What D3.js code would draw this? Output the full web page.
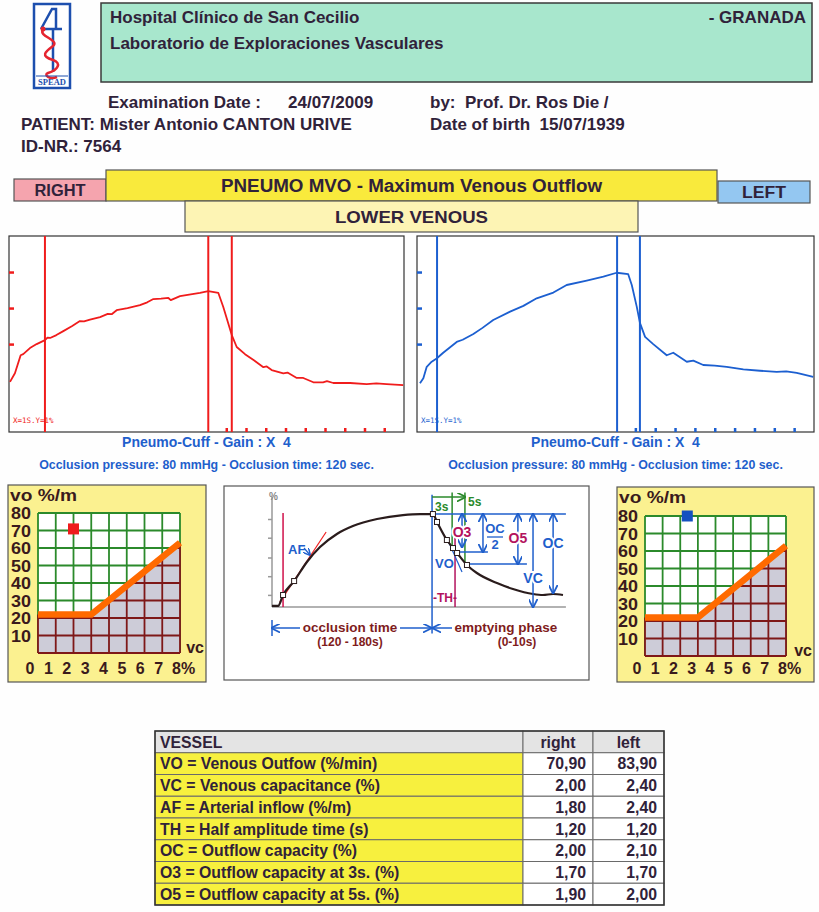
<!DOCTYPE html>
<html>
<head>
<meta charset="utf-8">
<script src="https://cdn.jsdelivr.net/npm/d3@7"></script>
<style>
body{margin:0;background:#fff}
svg{display:block}
text{font-family:"Liberation Sans",Arial,sans-serif;font-weight:bold}
</style>
</head>
<body>
<div id="plot"></div>
<script>
var headerLines = ["Hospital Clínico de San Cecilio", "Laboratorio de Exploraciones Vasculares"];
var city = "- GRANADA";
var examDate = "24/07/2009", doctor = "Prof. Dr. Ros Die /", patient = "Mister Antonio CANTON URIVE";
var birthDate = "15/07/1939", idNr = "7564";

// traces: [time units, %]
var rightTrace = [[0.05,-0.05],[0.30,0.19],[0.59,0.69],[0.72,0.72],[1.06,0.89],[1.40,1.00],[1.82,1.11],[1.95,1.18],[2.08,1.17],
  [2.4,1.25],[2.75,1.36],[3.2,1.5],[3.59,1.64],[3.8,1.63],[4.1,1.68],[4.61,1.75],[5.0,1.84],[5.2,1.83],[5.45,1.94],[6.0,2.0],[6.63,2.08],
  [7.0,2.16],[7.31,2.25],[7.7,2.26],[8.07,2.28],[8.19,2.22],[8.66,2.33],[9.2,2.38],[9.67,2.42],[10.09,2.47],[10.60,2.42],
  [10.85,2.03],[11.28,1.25],[11.53,0.92],[11.95,0.72],[12.4,0.55],[12.88,0.36],[13.05,0.38],[13.3,0.28],[13.89,0.19],[14.1,0.21],[14.57,0.06],
  [14.90,0.06],[15.41,-0.06],[15.9,-0.06],[16.1,-0.03],[16.42,-0.08],[17.27,-0.08],[18.11,-0.11],[18.6,-0.09],[19.12,-0.11],[19.96,-0.14]];
var leftTrace = [[0.15,-0.09],[0.32,0.05],[0.49,0.37],[0.74,0.51],[0.99,0.60],[1.32,0.76],[2.00,1.06],[2.3,1.12],[2.84,1.28],
  [3.3,1.45],[3.84,1.67],[4.69,1.90],[5.36,2.06],[6.03,2.27],[6.87,2.43],[7.54,2.64],[8.55,2.76],[9.39,2.87],[10.06,2.98],
  [10.64,2.94],[10.82,2.64],[11.07,2.04],[11.23,1.59],[11.49,1.20],[11.90,1.00],[12.58,0.69],[12.91,0.76],[13.59,0.51],
  [13.92,0.54],[14.42,0.42],[15.0,0.40],[15.60,0.37],[16.44,0.30],[17.28,0.26],[18.12,0.23],[18.6,0.24],[19.13,0.20],[19.96,0.09]];
var rightMarkers = [1.82, 10.09, 11.28];
var leftMarkers = [1.01, 10.08, 11.23];
var traceTicksY = [1, 2, 3];
var traceTicksX = [11, 12, 13, 14, 15, 16, 17, 18, 19];

// nomogram
var vcTicks = [0, 1, 2, 3, 4, 5, 6, 7, 8];
var voTicks = [10, 20, 30, 40, 50, 60, 70, 80];
var nomoLimit = [[0, 22], [3, 22], [8, 63]];

// result table
var vesselRows = ["VO = Venous Outfow (%/min)", "VC = Venous capacitance (%)", "AF = Arterial inflow (%/m)",
  "TH = Half amplitude time (s)", "OC = Outflow capacity (%)", "O3 = Outflow capacity at 3s. (%)", "O5 = Outflow capacity at 5s. (%)"];
var rightValues = [70.90, 2.00, 1.80, 1.20, 2.00, 1.70, 1.90];
var leftValues = [83.90, 2.40, 2.40, 1.20, 2.10, 1.70, 2.00];

// schematic curve (illustration units 0-100)
var schemeCurve = [[0,1],[2.1,1],[3.8,10.9],[7.6,23.6],[12,40.9],[16.5,54.5],[22.3,66.4],[27.8,73.6],[36.1,80],[45,83.6],
  [50.9,84.5],[55.3,84.5],[56.7,77.3],[60.1,60.9],[62.2,53.6],[63.6,49.1],[67,38.2],[70.4,30.9],[77.3,21.8],[82.8,16.4],
  [89.7,11.8],[93.1,10.9],[96.6,11.8],[100,10.9]];
var schemeSquares = [[3.8,10.9],[7.6,23.6],[55.3,84.5],[56.7,77.3],[60.1,60.9],[62.2,53.6],[63.6,49.1],[67,38.2]];
var schemeTicks = [11, 28, 45, 63, 80];
var schemeDims = [
  {name: "O3", t: 65.3, from: 84.5, to: 54.5, at: 68.2, color: "#b3135e"},
  {name: "O5", t: 84.5, from: 84.5, to: 39, at: 62.7, color: "#b3135e"},
  {name: "VC", t: 89.7, from: 84.5, to: 0, at: 26.4, color: "#1f5fcc"},
  {name: "OC", t: 96.6, from: 84.5, to: 12.7, at: 58.2, color: "#1f5fcc"}
];

var ink = "#30223a";
var comma = d3.formatLocale({decimal: ",", thousands: ".", grouping: [3], currency: ["", ""]}).format(".2f");

var svg = d3.select("#plot").append("svg").attr("width", 819).attr("height", 912).style("background", "#fefefe");
var defs = svg.append("defs");
["#1f5fcc", "#2b8a2b"].forEach(function(c, i){
  defs.append("marker").attr("id", "ah" + i).attr("viewBox", "0 0 10 10").attr("refX", 9).attr("refY", 5)
    .attr("markerWidth", 6).attr("markerHeight", 6).attr("orient", "auto-start-reverse")
    .append("path").attr("d", "M0,0 L10,5 L0,10").attr("fill", "none").attr("stroke", c).attr("stroke-width", 2);
});

// ---- logo ----
var logo = svg.append("g");
logo.append("rect").attr("x", 34).attr("y", 4).attr("width", 36).attr("height", 84)
  .attr("fill", "#fff").attr("stroke", "#1d4fae").attr("stroke-width", 2.5);
logo.append("path").attr("d", "M41,29 L52,9 L56,9 L56,29 M41,29 L62,29 M53,29 L53,72")
  .attr("fill", "none").attr("stroke", "#1d4fae").attr("stroke-width", 2.5);
logo.append("path").attr("d", "M43,30 C38,36 60,40 53,46 C45,52 40,56 53,60 C62,63 58,70 48,73 C43,75 50,80 57,77")
  .attr("fill", "none").attr("stroke", "#e52530").attr("stroke-width", 2.5);
logo.append("circle").attr("cx", 43).attr("cy", 29).attr("r", 2.5).attr("fill", "#e52530");
logo.append("line").attr("x1", 36).attr("x2", 68).attr("y1", 76).attr("y2", 76).attr("stroke", "#1d4fae");
logo.append("text").attr("x", 52).attr("y", 85).attr("text-anchor", "middle").attr("font-size", 8.5)
  .style("font-family", "Liberation Serif").attr("fill", "#1d4fae").text("SPEAD");

// ---- header ----
svg.append("rect").attr("x", 101).attr("y", 3).attr("width", 711).attr("height", 79)
  .attr("fill", "#a8e7cd").attr("stroke", "#3a3a3a").attr("stroke-width", 1.5);
svg.selectAll(".hl").data(headerLines).enter().append("text").attr("class", "hl")
  .attr("x", 110).attr("y", function(d, i){ return 23 + i * 26; })
  .attr("font-size", 17).attr("fill", ink).text(function(d){ return d; });
svg.append("text").attr("x", 806).attr("y", 23).attr("text-anchor", "end").attr("font-size", 17).attr("fill", ink).text(city);

var info = [
  [108, 108, "Examination Date :"], [288, 108, examDate], [430, 108, "by:  " + doctor],
  [21, 130, "PATIENT: " + patient], [430, 130, "Date of birth  " + birthDate], [21, 152, "ID-NR.: " + idNr]
];
svg.selectAll(".info").data(info).enter().append("text").attr("class", "info")
  .attr("x", function(d){ return d[0]; }).attr("y", function(d){ return d[1]; })
  .attr("font-size", 17).attr("fill", ink).style("white-space", "pre").text(function(d){ return d[2]; });

// ---- banners ----
var banners = [
  {x: 14, y: 179, w: 92, h: 22, fill: "#f5a4ae", text: "RIGHT", fs: 16, len: 51},
  {x: 106, y: 170, w: 611, h: 31, fill: "#f9ea3c", text: "PNEUMO MVO - Maximum Venous Outflow", fs: 18, len: 381},
  {x: 718, y: 181, w: 92, h: 22, fill: "#94c7f1", text: "LEFT", fs: 16, len: 44},
  {x: 185, y: 201, w: 453, h: 31, fill: "#fdf4b4", text: "LOWER VENOUS", fs: 17, len: 153}
];
banners.forEach(function(b){
  svg.append("rect").attr("x", b.x).attr("y", b.y).attr("width", b.w).attr("height", b.h)
    .attr("fill", b.fill).attr("stroke", "#555").attr("stroke-width", 1.2);
  svg.append("text").attr("x", b.x + b.w / 2).attr("y", b.y + b.h / 2).attr("dy", "0.36em")
    .attr("text-anchor", "middle").attr("font-size", b.fs).attr("fill", ink)
    .attr("textLength", b.len).attr("lengthAdjust", "spacingAndGlyphs").text(b.text);
});

// ---- trace panels ----
function tracePanel(px, color, data, markers, scaleText){
  var x = d3.scaleLinear().domain([0, 20]).range(px);
  var y = d3.scaleLinear().domain([-1.44, 4]).range([432, 236]);
  var g = svg.append("g");
  g.append("rect").attr("x", px[0]).attr("y", 236).attr("width", px[1] - px[0]).attr("height", 196)
    .attr("fill", "#fff").attr("stroke", "#333").attr("stroke-width", 1.2);

  var ay = g.append("g").attr("transform", "translate(" + px[0] + ",0)")
    .call(d3.axisLeft(y).tickValues(traceTicksY).tickSize(-5).tickFormat(""));
  var ax = g.append("g").attr("transform", "translate(0,432)")
    .call(d3.axisBottom(x).tickValues(traceTicksX).tickSize(-4).tickFormat(""));
  [ay, ax].forEach(function(a){
    a.select(".domain").remove();
    a.selectAll("line").attr("stroke", color).attr("stroke-width", 2.5);
  });

  g.selectAll(".mk").data(markers).enter().append("line")
    .attr("x1", function(d){ return x(d); }).attr("x2", function(d){ return x(d); })
    .attr("y1", 236).attr("y2", 432).attr("stroke", color).attr("stroke-width", 2);

  g.append("path").datum(data)
    .attr("d", d3.line().x(function(d){ return x(d[0]); }).y(function(d){ return y(d[1]); }))
    .attr("fill", "none").attr("stroke", color).attr("stroke-width", 1.8).attr("stroke-linejoin", "round");

  g.append("text").attr("x", px[0] + 4).attr("y", 423).attr("font-size", 7.5)
    .style("font-family", "DejaVu Sans Mono").style("font-weight", "normal").attr("fill", color).text(scaleText);

  var cx = (px[0] + px[1]) / 2;
  g.append("text").attr("x", cx).attr("y", 447).attr("text-anchor", "middle").attr("font-size", 14)
    .attr("fill", "#1f5fcc").style("white-space", "pre").text("Pneumo-Cuff - Gain : X  4");
  g.append("text").attr("x", cx).attr("y", 469).attr("text-anchor", "middle").attr("font-size", 12.4)
    .attr("fill", "#1f5fcc").text("Occlusion pressure: 80 mmHg - Occlusion time: 120 sec.");
}
tracePanel([9, 404], "#f01c1c", rightTrace, rightMarkers, "X=1S.Y=1%");
tracePanel([417, 814], "#1c5fd0", leftTrace, leftMarkers, "X=1S.Y=1%");

// ---- nomograms ----
function nomogram(box, grid, color, vc, vo, id){
  var x = d3.scaleLinear().domain([0, 8]).range([grid[0], grid[1]]);
  var y = d3.scaleLinear().domain([0, 80]).range([grid[3], grid[2]]);
  var lx = d3.scaleLinear().domain([0, 8]).range([grid[0] - 8, grid[1] - 3]);
  var g = svg.append("g");
  g.append("rect").attr("x", box[0]).attr("y", box[1]).attr("width", box[2] - box[0]).attr("height", box[3] - box[1])
    .attr("fill", "#fbf190").attr("stroke", "#555").attr("stroke-width", 1.2);
  g.append("rect").attr("x", grid[0]).attr("y", grid[2]).attr("width", grid[1] - grid[0]).attr("height", grid[3] - grid[2])
    .attr("fill", "#fff");

  function gridLines(sel, col){
    sel.selectAll(".gv").data(vcTicks).enter().append("line")
      .attr("x1", function(d){ return x(d); }).attr("x2", function(d){ return x(d); })
      .attr("y1", y(0)).attr("y2", y(80)).attr("stroke", col).attr("stroke-width", 1.8);
    sel.selectAll(".gh").data([0].concat(voTicks)).enter().append("line")
      .attr("y1", function(d){ return y(d); }).attr("y2", function(d){ return y(d); })
      .attr("x1", x(0)).attr("x2", x(8)).attr("stroke", col).attr("stroke-width", 1.8);
  }
  gridLines(g.append("g"), "#2b8a2b");

  var area = d3.area().x(function(d){ return x(d[0]); }).y0(y(0)).y1(function(d){ return y(d[1]); });
  var clipArea = d3.area().x(function(d){ return x(d[0]); }).y0(y(-2)).y1(function(d){ return y(d[1]); });
  g.append("clipPath").attr("id", "nclip" + id).append("path")
    .attr("d", clipArea([[-0.15, nomoLimit[0][1]]].concat(nomoLimit).concat([[8.15, nomoLimit[2][1]]])));
  var under = g.append("g").attr("clip-path", "url(#nclip" + id + ")");
  under.append("path").attr("d", area(nomoLimit)).attr("fill", "#cdccd8");
  gridLines(under, "#7e1818");

  g.append("path").attr("d", d3.line().x(function(d){ return x(d[0]); }).y(function(d){ return y(d[1]); })(nomoLimit))
    .attr("fill", "none").attr("stroke", "#ff6a00").attr("stroke-width", 6.5).attr("stroke-linejoin", "miter");

  g.append("rect").attr("x", x(vc) - 5.5).attr("y", y(Math.min(vo, 80)) - 5.5).attr("width", 11).attr("height", 11)
    .attr("fill", color);

  var lab = g.append("g").style("font-family", "DejaVu Sans").attr("font-size", 17).attr("fill", "#3a1a1c");
  lab.selectAll(".yl").data(voTicks).enter().append("text")
    .attr("x", grid[0] - 7).attr("y", function(d){ return y(d); }).attr("dy", "0.36em").attr("text-anchor", "end")
    .attr("textLength", 20).attr("lengthAdjust", "spacingAndGlyphs")
    .text(function(d){ return d; });
  lab.selectAll(".xl").data(vcTicks).enter().append("text")
    .attr("x", function(d){ return d === 8 ? lx(d) - 5 : lx(d); }).attr("y", box[3] - 8)
    .attr("font-size", 16)
    .attr("text-anchor", function(d){ return d === 8 ? "start" : "middle"; })
    .text(function(d){ return d === 8 ? d + "%" : d; });
  lab.append("text").attr("x", box[0] + 2).attr("y", box[1] + 16).style("white-space", "pre")
    .attr("textLength", 67).attr("lengthAdjust", "spacingAndGlyphs").text("vo %/m");
  lab.append("text").attr("x", box[2] - 2).attr("y", grid[3]).attr("text-anchor", "end").attr("font-size", 16).text("vc");
}
nomogram([8, 485, 206, 682], [38, 180, 513, 653], "#ee1c1c", rightValues[1], rightValues[0], 0);
nomogram([617, 487, 814, 682], [645, 786, 516, 656], "#1450c0", leftValues[1], leftValues[0], 1);

// ---- schematic ----
var sg = svg.append("g");
sg.append("rect").attr("x", 224).attr("y", 486).attr("width", 365).attr("height", 194)
  .attr("fill", "#fff").attr("stroke", "#555").attr("stroke-width", 1.2);
var sx = d3.scaleLinear().domain([0, 100]).range([272, 563]);
var sy = d3.scaleLinear().domain([0, 100]).range([607, 497]);
var blue = "#1f5fcc", green = "#2b8a2b", mag = "#b3135e", brown = "#7f1c1c";

sg.append("g").attr("transform", "translate(" + sx(0) + ",0)")
  .call(d3.axisLeft(sy).tickValues(schemeTicks).tickSize(4).tickFormat(""))
  .call(function(a){ a.select(".domain").attr("d", "M0," + sy(100) + "V" + sy(0)); a.selectAll("path,line").attr("stroke", "#999").attr("stroke-width", 1.5); });
sg.append("line").attr("x1", sx(0)).attr("x2", sx(101)).attr("y1", sy(0)).attr("y2", sy(0)).attr("stroke", "#999").attr("stroke-width", 1.5);
sg.append("text").attr("x", sx(0) - 3).attr("y", sy(100) + 3).attr("font-size", 10).attr("fill", "#888").text("%");

function vline(t, a, b, col, w){
  sg.append("line").attr("x1", sx(t)).attr("x2", sx(t)).attr("y1", sy(a)).attr("y2", sy(b)).attr("stroke", col).attr("stroke-width", w || 1.5);
}
function hline(v, a, b, col){
  sg.append("line").attr("x1", sx(a)).attr("x2", sx(b)).attr("y1", sy(v)).attr("y2", sy(v)).attr("stroke", col).attr("stroke-width", 1.5);
}
vline(3.8, 85.5, 0, "#d0104a");
vline(55, 102, -24, blue);
vline(61.9, 104, 54.5, green);
vline(66.3, 104, 39, green);
vline(62.9, 63.6, 0, mag);
hline(84.5, 55, 101, blue);
hline(50, 63.6, 74.2, blue);
hline(39, 67, 87.6, blue);

sg.append("line").attr("x1", sx(55)).attr("x2", sx(66.3)).attr("y1", sy(100)).attr("y2", sy(100))
  .attr("stroke", green).attr("stroke-width", 1.5).attr("marker-end", "url(#ah1)");

// tangents
sg.append("line").attr("x1", sx(2.7)).attr("y1", sy(4.5)).attr("x2", sx(18.6)).attr("y2", sy(68.2)).attr("stroke", "#f02020").attr("stroke-width", 1.2);
sg.append("line").attr("x1", sx(60.1)).attr("y1", sy(62.7)).attr("x2", sx(65.3)).attr("y2", sy(31.8)).attr("stroke", blue).attr("stroke-width", 1.2);

sg.append("path").datum(schemeCurve)
  .attr("d", d3.line().x(function(d){ return sx(d[0]); }).y(function(d){ return sy(d[1]); }).curve(d3.curveMonotoneX))
  .attr("fill", "none").attr("stroke", "#2a1c1c").attr("stroke-width", 2.2);
sg.selectAll(".sq").data(schemeSquares).enter().append("rect")
  .attr("x", function(d){ return sx(d[0]) - 2.5; }).attr("y", function(d){ return sy(d[1]) - 2.5; })
  .attr("width", 5).attr("height", 5).attr("fill", "#fff").attr("stroke", "#2a1c1c").attr("stroke-width", 1);

// dimension arrows
sg.selectAll(".dim").data(schemeDims).enter().append("line")
  .attr("x1", function(d){ return sx(d.t); }).attr("x2", function(d){ return sx(d.t); })
  .attr("y1", function(d){ return sy(d.from); }).attr("y2", function(d){ return sy(d.to); })
  .attr("stroke", blue).attr("stroke-width", 1.5)
  .attr("marker-start", "url(#ah0)").attr("marker-end", "url(#ah0)");
sg.selectAll(".diml").data(schemeDims).enter().append("text")
  .attr("x", function(d){ return sx(d.t); }).attr("y", function(d){ return sy(d.at); }).attr("dy", "0.36em")
  .attr("text-anchor", "middle").attr("font-size", 14).attr("fill", function(d){ return d.color; })
  .attr("stroke", "#fff").attr("stroke-width", 4).style("paint-order", "stroke").text(function(d){ return d.name; });

// OC/2
sg.append("line").attr("x1", sx(72.5)).attr("x2", sx(72.5)).attr("y1", sy(84.5)).attr("y2", sy(50))
  .attr("stroke", blue).attr("stroke-width", 1.5).attr("marker-start", "url(#ah0)").attr("marker-end", "url(#ah0)");
sg.append("text").attr("x", 495).attr("y", 533).attr("text-anchor", "middle").attr("font-size", 13).attr("fill", blue).text("OC");
sg.append("line").attr("x1", 487).attr("x2", 503).attr("y1", 537).attr("y2", 537).attr("stroke", blue).attr("stroke-width", 1.3);
sg.append("text").attr("x", 495).attr("y", 549).attr("text-anchor", "middle").attr("font-size", 13).attr("fill", blue).text("2");

sg.append("text").attr("x", 288).attr("y", 554).attr("font-size", 13).attr("fill", blue).text("AF");
sg.append("line").attr("x1", 304).attr("y1", 548).attr("x2", 310).attr("y2", 555).attr("stroke", blue).attr("stroke-width", 1.2).attr("marker-end", "url(#ah0)");
sg.append("text").attr("x", 435).attr("y", 568).attr("font-size", 13).attr("fill", blue).text("VO");
sg.append("text").attr("x", 433).attr("y", 602).attr("font-size", 12).attr("fill", mag).text("-TH-");
sg.append("text").attr("x", 435).attr("y", 511).attr("font-size", 12).attr("fill", green).text("3s");
sg.append("text").attr("x", 468).attr("y", 506).attr("font-size", 12).attr("fill", green).text("5s");

// phase arrows
sg.append("line").attr("x1", sx(0)).attr("x2", sx(0)).attr("y1", 620).attr("y2", 636).attr("stroke", blue).attr("stroke-width", 1.5);
sg.append("line").attr("x1", 300).attr("x2", sx(0)).attr("y1", 628).attr("y2", 628).attr("stroke", blue).attr("stroke-width", 1.5).attr("marker-end", "url(#ah0)");
sg.append("line").attr("x1", 400).attr("x2", sx(55) - 1).attr("y1", 628).attr("y2", 628).attr("stroke", blue).attr("stroke-width", 1.5).attr("marker-end", "url(#ah0)");
sg.append("line").attr("x1", 452).attr("x2", sx(55) + 1).attr("y1", 628).attr("y2", 628).attr("stroke", blue).attr("stroke-width", 1.5).attr("marker-end", "url(#ah0)");
var phases = [[350, "occlusion time", "(120 - 180s)"], [506, "emptying phase", "(0-10s)"]];
phases.forEach(function(p){
  sg.append("text").attr("x", p[0]).attr("y", 632).attr("text-anchor", "middle").attr("font-size", 13.5).attr("fill", brown).text(p[1]);
  sg.append("text").attr("x", p[0] + (p[0] > 400 ? 11 : 0)).attr("y", 646).attr("text-anchor", "middle").attr("font-size", 12).attr("fill", brown).text(p[2]);
});

// ---- table ----
var colX = [155, 523, 593, 664], rowH = 21.75, tableTop = 731;
var tg = svg.append("g");
var rows = [["VESSEL", "right", "left"]].concat(vesselRows.map(function(r, i){ return [r, comma(rightValues[i]), comma(leftValues[i])]; }));
rows.forEach(function(r, i){
  var y0 = tableTop + i * rowH;
  r.forEach(function(c, j){
    tg.append("rect").attr("x", colX[j]).attr("y", y0).attr("width", colX[j + 1] - colX[j]).attr("height", rowH)
      .attr("fill", i === 0 ? "#e4e4e4" : (j === 0 ? "#f7f03e" : "#fff")).attr("stroke", "#6a6a6a").attr("stroke-width", 1);
    var tx = j === 0 ? colX[0] + 5 : (i === 0 ? (colX[j] + colX[j + 1]) / 2 : colX[j + 1] - 7);
    tg.append("text").attr("x", tx).attr("y", y0 + rowH / 2).attr("dy", "0.36em")
      .attr("text-anchor", j === 0 ? "start" : (i === 0 ? "middle" : "end"))
      .attr("font-size", 15.8).attr("fill", ink).text(c);
  });
});
tg.append("rect").attr("x", colX[0]).attr("y", tableTop).attr("width", colX[3] - colX[0]).attr("height", rowH * 8)
  .attr("fill", "none").attr("stroke", "#333").attr("stroke-width", 1.5);
</script>
</body>
</html>
